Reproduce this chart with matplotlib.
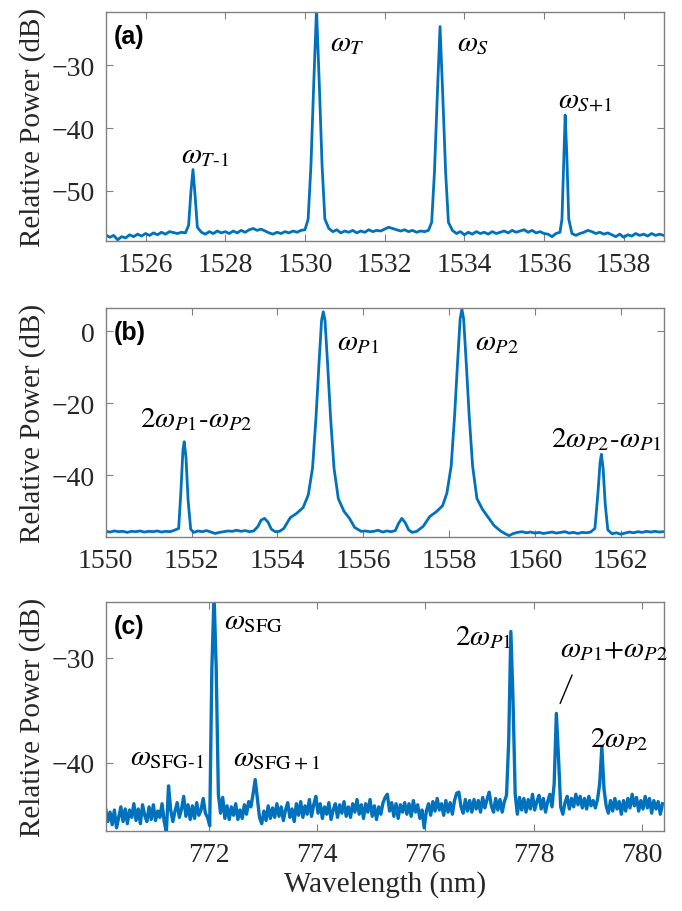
import numpy as np
import matplotlib
matplotlib.use("Agg")
from matplotlib import pyplot as plt

plt.rcParams['font.family'] = ['Liberation Serif', 'DejaVu Serif']
plt.rcParams['mathtext.fontset'] = 'stix'

blue = '#0072BD'

# panel (a): 1525-1539 nm
wl_a = [1525.0, 1525.1, 1525.2, 1525.3, 1525.4, 1525.5, 1525.6, 1525.7, 1525.8, 1525.9,
        1526.0, 1526.1, 1526.2, 1526.3, 1526.4, 1526.5, 1526.6, 1526.8, 1526.9, 1527.0,
        1527.08, 1527.14, 1527.19, 1527.24, 1527.30,
        1527.4, 1527.5, 1527.6, 1527.7, 1527.8, 1527.9, 1528.0, 1528.1, 1528.2, 1528.3,
        1528.4, 1528.5, 1528.6, 1528.7, 1528.8, 1528.9, 1529.0, 1529.1, 1529.2, 1529.3,
        1529.4, 1529.5, 1529.6, 1529.7, 1529.8, 1529.9, 1530.0,
        1530.08, 1530.15, 1530.22, 1530.29, 1530.36, 1530.43, 1530.50,
        1530.6, 1530.7, 1530.8, 1530.9, 1531.0, 1531.1, 1531.2, 1531.3, 1531.4, 1531.5,
        1531.6, 1531.7, 1531.8, 1531.9, 1532.0, 1532.1, 1532.2, 1532.3, 1532.4, 1532.5,
        1532.6, 1532.7, 1532.8, 1532.9, 1533.0, 1533.1,
        1533.18, 1533.25, 1533.32, 1533.39, 1533.46, 1533.53, 1533.60,
        1533.7, 1533.8, 1533.9, 1534.0, 1534.1, 1534.2, 1534.3, 1534.4, 1534.5, 1534.6,
        1534.7, 1534.8, 1534.9, 1535.0, 1535.1, 1535.2, 1535.3, 1535.4, 1535.5, 1535.6,
        1535.7, 1535.8, 1535.9, 1536.0, 1536.1, 1536.2, 1536.3, 1536.4,
        1536.45, 1536.50, 1536.53, 1536.57, 1536.62,
        1536.7, 1536.8, 1536.9, 1537.0, 1537.1, 1537.2, 1537.3, 1537.4, 1537.5, 1537.6,
        1537.7, 1537.8, 1537.9, 1538.0, 1538.1, 1538.2, 1538.3, 1538.4, 1538.5, 1538.6,
        1538.7, 1538.8, 1538.9, 1539.0]
pw_a = [-57.0, -57.4, -57.1, -57.8, -57.3, -57.5, -57.0, -57.3, -56.9, -57.2,
        -56.8, -57.1, -56.7, -57.0, -56.6, -56.9, -56.5, -56.8, -56.6, -56.7,
        -55.5, -50.0, -46.6, -50.5, -55.8,
        -56.6, -56.9, -56.5, -56.8, -56.4, -56.7, -56.5, -56.8, -56.4, -56.7,
        -56.3, -56.6, -56.2, -56.0, -56.3, -56.1, -56.4, -56.7, -56.9, -56.6,
        -56.8, -56.5, -56.7, -56.4, -56.6, -56.3, -56.2,
        -54.5, -46.0, -33.0, -21.0, -33.0, -46.0, -54.5,
        -56.0, -56.5, -56.2, -56.7, -56.4, -56.6, -56.3, -56.7, -56.4, -56.6,
        -56.2, -56.5, -56.3, -56.4, -56.1, -55.8, -56.0, -56.2, -56.4, -56.2,
        -56.5, -56.3, -56.6, -56.4, -56.5, -56.3,
        -55.0, -47.0, -35.0, -23.8, -35.0, -47.0, -55.0,
        -56.3, -56.8, -56.5, -57.0, -56.6, -56.9, -56.5, -56.8, -56.6, -56.9,
        -56.5, -56.8, -56.6, -56.4, -56.7, -56.3, -56.6, -56.4, -56.2, -56.6,
        -56.3, -56.7, -56.5, -56.8, -56.9, -57.3, -56.8, -56.6,
        -54.5, -44.0, -37.9, -44.0, -54.5,
        -56.8, -57.1, -56.8, -56.6, -56.3, -56.5, -56.8, -56.6, -56.9, -56.7,
        -57.0, -57.3, -56.9, -57.4, -57.0, -57.2, -56.8, -57.1, -56.9, -57.2,
        -56.8, -57.1, -56.9, -57.1]

# panel (b): 1550-1563 nm
wl_b = [1550.0, 1550.1, 1550.2, 1550.3, 1550.4, 1550.5, 1550.6, 1550.7, 1550.8, 1550.9,
        1551.0, 1551.1, 1551.2, 1551.3, 1551.4, 1551.5, 1551.6, 1551.7,
        1551.75, 1551.80, 1551.83, 1551.87, 1551.92, 1551.98,
        1552.05, 1552.15, 1552.25, 1552.35, 1552.45, 1552.55, 1552.65, 1552.75, 1552.85,
        1552.95, 1553.05, 1553.15, 1553.25, 1553.35, 1553.45,
        1553.55, 1553.62, 1553.70, 1553.78, 1553.86, 1553.95, 1554.05,
        1554.15, 1554.3, 1554.45, 1554.6, 1554.72, 1554.82, 1554.90, 1554.97, 1555.03,
        1555.07, 1555.11, 1555.17, 1555.24, 1555.32, 1555.42, 1555.55, 1555.68, 1555.8,
        1555.95, 1556.05, 1556.15, 1556.25, 1556.35, 1556.45, 1556.55, 1556.65, 1556.75,
        1556.82, 1556.90, 1556.98, 1557.06, 1557.14,
        1557.25, 1557.4, 1557.55, 1557.7, 1557.85, 1557.95, 1558.05, 1558.13, 1558.2,
        1558.26, 1558.3, 1558.34, 1558.4, 1558.47, 1558.55, 1558.65, 1558.78, 1558.9,
        1559.05, 1559.2,
        1559.3, 1559.4, 1559.5, 1559.6, 1559.7, 1559.8, 1559.9, 1560.0, 1560.1, 1560.2,
        1560.3, 1560.4, 1560.5, 1560.6, 1560.7, 1560.8, 1560.9, 1561.0, 1561.1, 1561.2,
        1561.3, 1561.4, 1561.47, 1561.52, 1561.55, 1561.59, 1561.64, 1561.70,
        1561.8, 1561.9, 1562.0, 1562.1, 1562.2, 1562.3, 1562.4, 1562.5, 1562.6, 1562.7,
        1562.8, 1562.9, 1563.0]
pw_b = [-55.6, -55.8, -55.5, -55.7, -55.6, -55.9, -55.6, -55.7, -55.5, -55.8,
        -55.6, -55.7, -55.5, -55.8, -55.6, -55.7, -55.3, -54.8,
        -45.0, -33.0, -30.7, -35.0, -47.0, -55.0,
        -55.9, -55.5, -55.7, -55.4, -55.8, -56.2, -55.9, -55.7, -55.5,
        -55.6, -55.3, -55.6, -55.4, -55.7, -55.5,
        -54.2, -52.5, -52.0, -53.0, -55.0, -55.7, -55.6,
        -54.8, -51.8, -50.6, -49.0, -45.5, -38.0, -24.0, -9.0, 3.0,
        5.4, 3.0, -9.0, -24.0, -38.0, -46.5, -50.0, -52.0, -54.5,
        -55.6, -55.5, -55.7, -55.6, -55.3, -55.8, -55.5, -55.7, -55.4,
        -53.5, -52.0, -53.2, -55.2, -55.9,
        -55.6, -54.2, -51.5, -50.2, -48.5, -45.0, -37.5, -23.5, -8.5,
        3.5, 6.1, 3.5, -8.5, -23.5, -37.5, -46.5, -49.5, -51.5,
        -54.0, -55.5,
        -56.2, -56.8, -56.2, -55.9, -55.7, -56.0, -55.8, -56.1, -55.9, -56.2,
        -56.0, -55.8, -56.1, -55.9, -55.7, -56.1, -55.9, -56.2, -55.9, -56.0,
        -55.8, -54.8, -45.0, -36.5, -34.2, -38.0, -48.0, -55.2,
        -56.3, -56.0, -56.4, -56.1, -55.8, -56.0, -55.7, -55.9, -55.6, -55.8,
        -55.6, -55.8, -55.7]

# panel (c): 770.1-780.4 nm
wl_c = [770.10, 770.14, 770.18, 770.22, 770.26, 770.30, 770.34, 770.38, 770.42, 770.46,
        770.50, 770.54, 770.58, 770.62, 770.66, 770.70, 770.74, 770.78, 770.82, 770.86,
        770.90, 770.94, 770.98, 771.02, 771.06, 771.10, 771.14, 771.18, 771.22, 771.26,
        771.30, 771.34, 771.38, 771.42, 771.46, 771.50, 771.54, 771.58, 771.62, 771.66,
        771.70, 771.74, 771.78, 771.82, 771.86, 771.90, 771.94, 771.98, 772.02, 772.06,
        772.10, 772.14, 772.18, 772.22, 772.26, 772.30, 772.34, 772.38, 772.42, 772.46,
        772.50, 772.54, 772.58, 772.62, 772.66, 772.70, 772.74, 772.78, 772.82, 772.86,
        772.90, 772.94, 772.98, 773.02, 773.06, 773.10, 773.14, 773.18, 773.22, 773.26,
        773.30, 773.34, 773.38, 773.42, 773.46, 773.50, 773.54, 773.58, 773.62, 773.66,
        773.70, 773.74, 773.78, 773.82, 773.86, 773.90, 773.94, 773.98, 774.02, 774.06,
        774.10, 774.14, 774.18, 774.22, 774.26, 774.30, 774.34, 774.38, 774.42, 774.46,
        774.50, 774.54, 774.58, 774.62, 774.66, 774.70, 774.74, 774.78, 774.82, 774.86,
        774.90, 774.94, 774.98, 775.02, 775.06, 775.10, 775.14, 775.18, 775.22, 775.26,
        775.30, 775.34, 775.38, 775.42, 775.46, 775.50, 775.54, 775.58, 775.62, 775.66,
        775.70, 775.74, 775.78, 775.82, 775.86, 775.90, 775.94, 775.98, 776.02, 776.06,
        776.10, 776.14, 776.18, 776.22, 776.26, 776.30, 776.34, 776.38, 776.42, 776.46,
        776.50, 776.54, 776.58, 776.62, 776.66, 776.70, 776.74, 776.78, 776.82, 776.86,
        776.90, 776.94, 776.98, 777.02, 777.06, 777.10, 777.14, 777.18, 777.22, 777.26,
        777.30, 777.34, 777.38, 777.42, 777.46, 777.50, 777.54, 777.58, 777.62, 777.66,
        777.70, 777.74, 777.78, 777.82, 777.86, 777.90, 777.94, 777.98, 778.02, 778.06,
        778.10, 778.14, 778.18, 778.22, 778.26, 778.30, 778.34, 778.38, 778.42, 778.46,
        778.50, 778.54, 778.58, 778.62, 778.66, 778.70, 778.74, 778.78, 778.82, 778.86,
        778.90, 778.94, 778.98, 779.02, 779.06, 779.10, 779.14, 779.18, 779.22, 779.26,
        779.30, 779.34, 779.38, 779.42, 779.46, 779.50, 779.54, 779.58, 779.62, 779.66,
        779.70, 779.74, 779.78, 779.82, 779.86, 779.90, 779.94, 779.98, 780.02, 780.06,
        780.10, 780.14, 780.18, 780.22, 780.26, 780.30, 780.34, 780.38]
pw_c = [-44.4, -45.6, -44.7, -45.9, -44.5, -46.2, -45.2, -44.2, -45.6, -44.4,
        -45.8, -44.5, -45.2, -43.9, -45.5, -44.4, -45.8, -44.0, -45.0, -45.6,
        -44.2, -45.4, -44.0, -45.5, -44.6, -45.2, -43.9, -45.6, -46.6, -42.2,
        -44.5, -45.6, -44.6, -43.8, -45.2, -44.4, -43.2, -45.1, -44.0, -45.4,
        -44.1, -45.3, -43.8, -45.0, -44.5, -43.4, -44.8, -45.2, -46.0, -31.0,
        -24.0, -31.0, -43.0, -44.8, -43.3, -45.3, -44.1, -45.4, -44.2, -45.0,
        -43.9, -45.4, -44.5, -45.3, -44.0, -44.9, -43.7, -44.2, -43.0, -41.6,
        -43.4, -45.2, -45.8, -44.6, -45.5, -44.1, -45.3, -44.3, -45.2, -43.9,
        -45.1, -44.2, -45.5, -44.5, -43.8, -45.2, -44.4, -45.6, -43.9, -45.0,
        -43.7, -45.2, -44.1, -44.9, -43.5, -45.1, -44.0, -43.2, -44.8, -43.9,
        -45.3, -44.2, -44.9, -43.8, -45.4, -44.5, -43.9, -45.2, -44.0, -44.8,
        -43.7, -45.1, -44.2, -45.2, -43.9, -44.7, -43.5, -44.9, -44.0, -45.3,
        -43.9, -44.7, -43.5, -45.1, -44.1, -45.4, -44.2, -44.9, -43.8, -43.3,
        -43.0, -44.6, -43.8, -45.1, -43.9, -45.3, -44.0, -44.7, -43.8, -44.9,
        -43.9, -45.1, -43.6, -44.7, -44.0, -45.3, -44.5, -46.2, -44.6, -43.9,
        -45.0, -43.7, -44.6, -43.4, -44.5, -43.9, -45.0, -43.6, -44.7, -43.8,
        -44.9, -43.6, -42.9, -42.8, -44.2, -44.8, -43.5, -44.6, -43.6, -44.7,
        -43.5, -44.4, -43.6, -44.7, -43.3, -44.3, -43.5, -42.8, -44.1, -44.7,
        -43.4, -44.5, -43.5, -44.7, -43.7, -43.1, -38.0, -27.5, -34.0, -43.0,
        -44.9, -43.3, -44.5, -43.4, -44.7, -43.5, -44.4, -43.0, -44.5, -43.7,
        -43.1, -44.4, -43.4, -44.7, -43.7, -43.0, -44.2, -42.0, -35.3, -39.5,
        -44.2, -44.9, -43.8, -43.2, -44.4, -43.4, -44.2, -43.0, -44.0, -43.2,
        -44.3, -43.4, -44.4, -43.2, -44.1, -43.6, -44.3, -43.5, -42.0, -38.5,
        -42.5, -44.1, -44.8, -43.6, -44.6, -43.4, -44.4, -43.7, -44.9, -43.6,
        -44.6, -43.4, -44.3, -43.0, -44.1, -43.3, -44.6, -43.6, -44.4, -43.2,
        -44.3, -43.4, -44.8, -43.6, -44.4, -43.7, -44.9, -43.9]

fig = plt.figure(figsize=(6.82, 9.12), dpi=100)
left, width, height = 0.155, 0.818, 0.251
ax_a = fig.add_axes([left, 0.7346, width, height])
ax_b = fig.add_axes([left, 0.410, width, height])
ax_c = fig.add_axes([left, 0.0877, width, height])


def style(ax, label):
    for s in ax.spines.values():
        s.set_color('#808080')
        s.set_linewidth(1.0)
    ax.tick_params(direction='in', top=True, right=True, length=5, width=0.8,
                   color='#808080', labelsize=20, labelcolor='#262626', pad=8)
    ax.set_ylabel('Relative Power (dB)', fontsize=21, color='#262626', labelpad=4)
    ax.text(0.015, 0.895, label, transform=ax.transAxes, fontsize=18, fontweight='bold',
            family='Liberation Sans', va='center', ha='left')


# (a)
ax_a.plot(wl_a, pw_a, color=blue, lw=2.0)
ax_a.set_xlim(1525, 1539)
ax_a.set_ylim(-58, -21.5)
ax_a.set_xticks([1526, 1528, 1530, 1532, 1534, 1536, 1538])
ax_a.set_yticks([-50, -40, -30])
style(ax_a, '(a)')
fs = 21
ax_a.text(1526.9, -45.4, r'$\omega_{T\mathrm{\text{-}1}}$', fontsize=fs)
ax_a.text(1530.62, -27.6, r'$\omega_{T}$', fontsize=fs)
ax_a.text(1533.81, -27.6, r'$\omega_{S}$', fontsize=fs)
ax_a.text(1536.34, -36.4, r'$\omega_{S\mathrm{+1}}$', fontsize=fs)

# (b)
ax_b.plot(wl_b, pw_b, color=blue, lw=2.0)
ax_b.set_xlim(1550, 1563)
ax_b.set_ylim(-57.2, 6.4)
ax_b.set_xticks([1550, 1552, 1554, 1556, 1558, 1560, 1562])
ax_b.set_yticks([-40, -20, 0])
style(ax_b, '(b)')
ax_b.text(1555.39, -5.0, r'$\omega_{P\mathrm{1}}$', fontsize=fs)
ax_b.text(1558.6, -5.0, r'$\omega_{P\mathrm{2}}$', fontsize=fs)
ax_b.text(1550.81, -26.3, r'$2\omega_{P\mathrm{1}}\text{-}\omega_{P\mathrm{2}}$', fontsize=fs)
ax_b.text(1560.38, -31.9, r'$2\omega_{P\mathrm{2}}\text{-}\omega_{P\mathrm{1}}$', fontsize=fs)

# (c)
ax_c.plot(wl_c, pw_c, color=blue, lw=2.4)
ax_c.set_xlim(770.1, 780.4)
ax_c.set_ylim(-46.5, -24.7)
ax_c.set_xticks([772, 774, 776, 778, 780])
ax_c.set_yticks([-40, -30])
style(ax_c, '(c)')
ax_c.set_xlabel('Wavelength (nm)', fontsize=21, color='#262626', labelpad=2)
ax_c.text(772.28, -27.2, r'$\omega_{\mathrm{SFG}}$', fontsize=fs)
ax_c.text(770.54, -40.1, r'$\omega_{\mathrm{SFG\text{-}1}}$', fontsize=fs)
ax_c.text(772.45, -40.1, r'$\omega_{\mathrm{SFG+1}}$', fontsize=fs)
ax_c.text(776.55, -28.7, r'$2\omega_{P\mathrm{1}}$', fontsize=fs)
ax_c.text(778.49, -29.8, r'$\omega_{P\mathrm{1}}\mathrm{+}\omega_{P\mathrm{2}}$', fontsize=fs)
ax_c.text(779.05, -38.4, r'$2\omega_{P\mathrm{2}}$', fontsize=fs)
ax_c.annotate('', xy=(778.47, -34.6), xytext=(778.73, -31.4),
              arrowprops=dict(arrowstyle='-', lw=1.0, color='black'))

fig.savefig('out.png', dpi=100)
